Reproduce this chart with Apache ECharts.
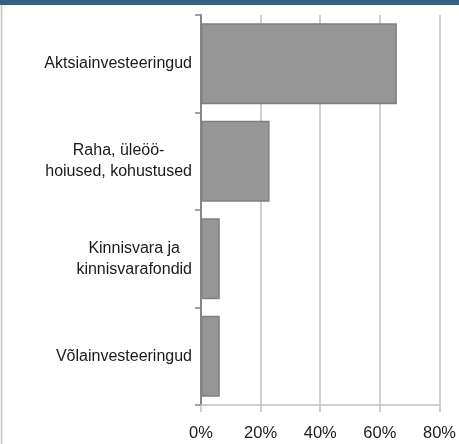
<!DOCTYPE html>
<html><head><meta charset="utf-8">
<script src="https://cdn.jsdelivr.net/npm/echarts@6/dist/echarts.min.js"></script>
<style>html,body{margin:0;padding:0;background:#fff}#c{width:459px;height:444px}</style>
</head><body><div id="c"></div>
<script>
const categories = ['Aktsiainvesteeringud', 'Raha, üleöö-\nhoiused, kohustused', 'Kinnisvara ja\nkinnisvarafondid', 'Võlainvesteeringud'];
const values = [0.657, 0.23, 0.063, 0.063];
const xTicks = [0, 0.2, 0.4, 0.6, 0.8];

const chart = echarts.init(document.getElementById('c'), null, {renderer: 'canvas'});
const font = 'Liberation Sans, Arial, sans-serif';
chart.setOption({
  animation: false,
  graphic: [
    {type: 'rect', left: 0, top: 0, shape: {width: 459, height: 5}, style: {fill: '#33617f'}},
    {type: 'line', shape: {x1: 1.5, y1: 5, x2: 1.5, y2: 444}, style: {stroke: '#c4c4c4', lineWidth: 1.5}}
  ],
  grid: {left: 201, right: 17, top: 15, bottom: 39, containLabel: false},
  xAxis: {
    type: 'value', min: xTicks[0], max: xTicks[xTicks.length - 1], interval: 0.2,
    axisLine: {show: true, lineStyle: {color: '#c0c0c0', width: 1.5}},
    axisTick: {show: true, length: 7, lineStyle: {color: '#c0c0c0', width: 1.5}},
    splitLine: {show: true, lineStyle: {color: '#c0c0c0', width: 1.5}},
    axisLabel: {
      margin: 20, color: '#1a1a1a', fontFamily: font, fontSize: 16.5,
      formatter: v => Math.round(v * 100) + '%'
    }
  },
  yAxis: {
    type: 'category', data: categories, inverse: true,
    axisLine: {show: true, lineStyle: {color: '#868686', width: 2}},
    axisTick: {show: true, length: 6, lineStyle: {color: '#868686', width: 1.5}},
    splitLine: {show: false},
    axisLabel: {
      margin: 9, color: '#1a1a1a', fontFamily: font, fontSize: 16, lineHeight: 21, align: 'right',
      formatter: v => v.split('\n').map(s => '{c|' + s + '}').join('\n'),
      rich: {c: {align: 'center', fontFamily: font, fontSize: 16, lineHeight: 21, color: '#1a1a1a'}}
    }
  },
  series: [{
    type: 'bar', data: values, barCategoryGap: '17%',
    itemStyle: {color: '#969696', borderColor: '#808080', borderWidth: 1.5},
    silent: true
  }]
});
</script></body></html>
